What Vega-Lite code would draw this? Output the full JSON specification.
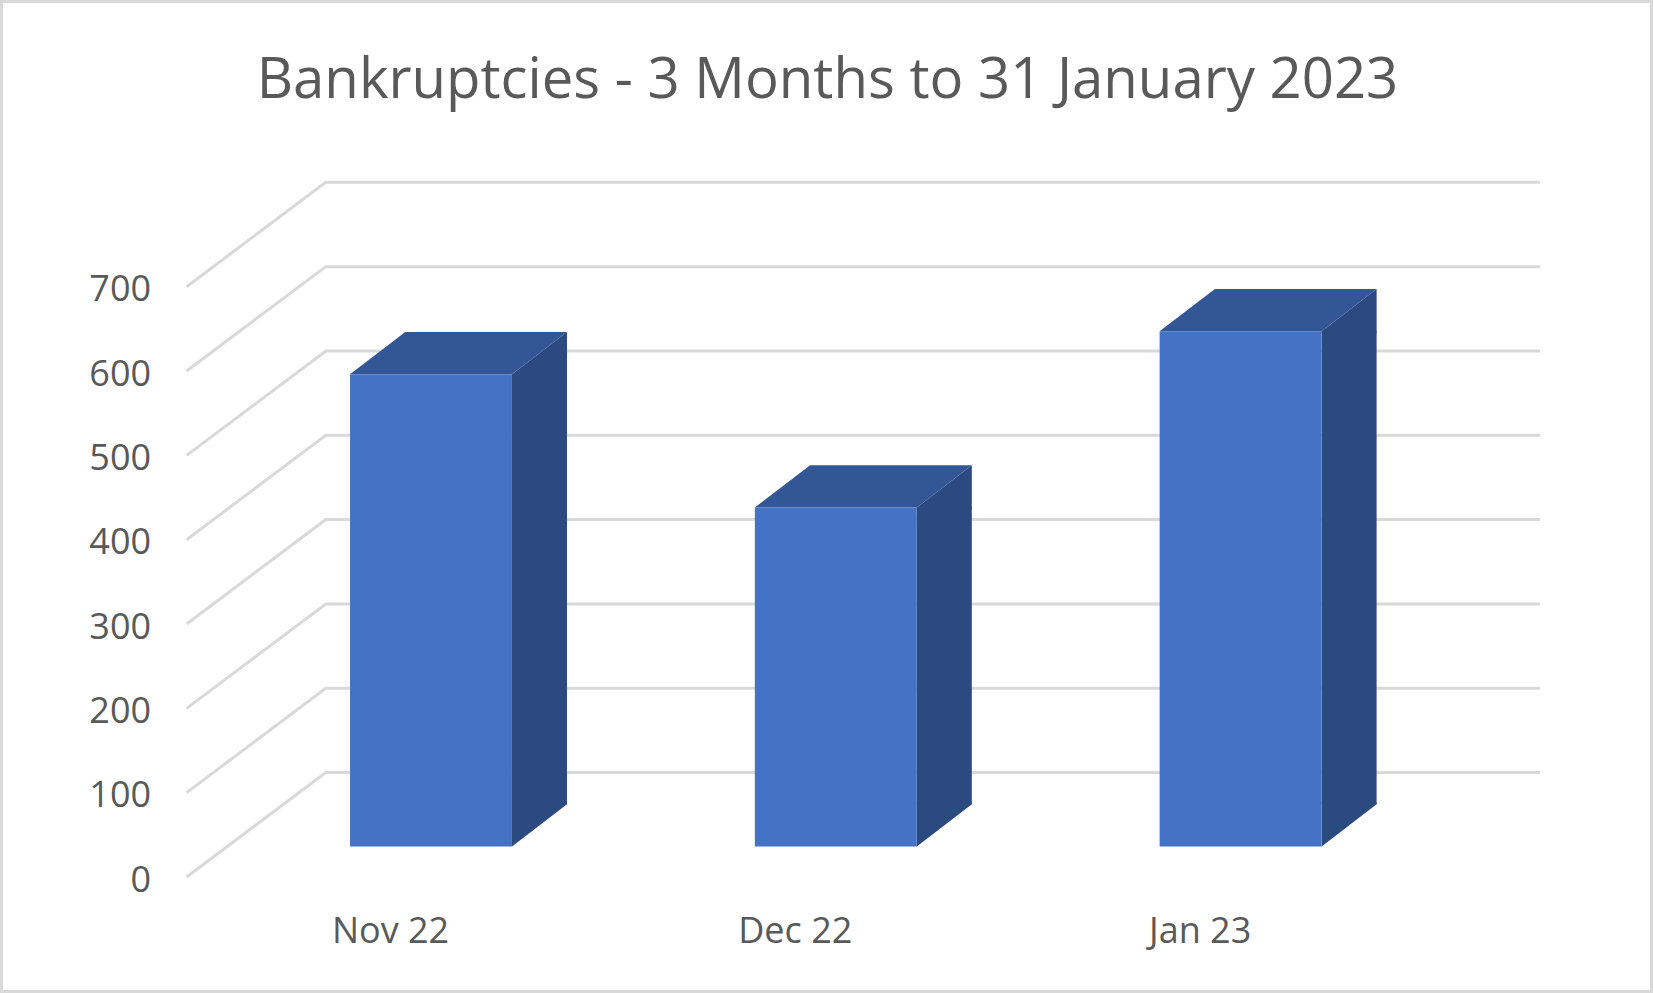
{
  "$schema": "https://vega.github.io/schema/vega-lite/v6.json",
  "width": 1214.4,
  "height": 590.3,
  "autosize": {"type": "none"},
  "padding": {"left": 186.6, "top": 286.7, "right": 252, "bottom": 116},
  "background": "white",
  "config": {"view": {"stroke": null}},
  "title": {
    "text": "Bankruptcies - 3 Months to 31 January 2023",
    "anchor": "middle",
    "frame": "group",
    "dx": 33.7,
    "offset": -114.5,
    "font": "Open Sans",
    "fontSize": 56.3,
    "fontWeight": "normal",
    "color": "#595959"
  },
  "datasets": {
    "bars": [
      {"month": "Nov 22", "bankruptcies": 560},
      {"month": "Dec 22", "bankruptcies": 402},
      {"month": "Jan 23", "bankruptcies": 611}
    ],
    "ticks": [
      {"level": 0}, {"level": 100}, {"level": 200}, {"level": 300},
      {"level": 400}, {"level": 500}, {"level": 600}, {"level": 700}
    ],
    "frame": [{"name": "border"}]
  },
  "layer": [
    {
      "data": {"name": "frame"},
      "mark": {
        "type": "point",
        "filled": false,
        "opacity": 1,
        "size": 4,
        "stroke": "#d9d9d9",
        "strokeWidth": 3,
        "shape": "M-792.3,-580.35L857.7,-580.35L857.7,409.65L-792.3,409.65Z"
      },
      "encoding": {}
    },
    {
      "data": {"name": "ticks"},
      "mark": {
        "type": "point",
        "filled": false,
        "opacity": 1,
        "size": 4,
        "stroke": "#d9d9d9",
        "strokeWidth": 3,
        "shape": "M-607.2,0L-468,-104.4L746.4,-104.4"
      },
      "encoding": {
        "y": {
          "field": "level",
          "type": "quantitative",
          "scale": {"domain": [0, 700], "nice": false},
          "axis": {
            "title": null,
            "domain": false,
            "ticks": false,
            "grid": false,
            "values": [0, 100, 200, 300, 400, 500, 600, 700],
            "labelPadding": 36,
            "labelOffset": 3,
            "labelFont": "Open Sans",
            "labelFontSize": 36,
            "labelColor": "#595959"
          }
        }
      }
    },
    {
      "data": {"name": "bars"},
      "mark": {
        "type": "bar",
        "fill": "#2a4a80",
        "width": 55,
        "xOffset": 150.5,
        "yOffset": -30.6,
        "y2Offset": -72.8
      },
      "encoding": {
        "x": {
          "field": "month",
          "type": "nominal",
          "sort": null,
          "scale": {"paddingInner": 0.6, "paddingOuter": 0.3},
          "axis": {
            "title": null,
            "domain": false,
            "ticks": false,
            "grid": false,
            "labelAngle": 0,
            "labelPadding": 37,
            "labelOffset": 1.5,
            "labelFont": "Open Sans",
            "labelFontSize": 36,
            "labelColor": "#595959"
          }
        },
        "y": {"field": "bankruptcies", "type": "quantitative"},
        "y2": {"datum": 0}
      }
    },
    {
      "data": {"name": "bars"},
      "mark": {
        "type": "point",
        "filled": true,
        "opacity": 1,
        "size": 4,
        "fill": "#2a4a80",
        "shape": "M123,-30.6L178,-72.8L178,-28.6L123,-28.6Z"
      },
      "encoding": {
        "x": {"field": "month", "type": "nominal", "sort": null},
        "y": {"field": "bankruptcies", "type": "quantitative"}
      }
    },
    {
      "data": {"name": "bars"},
      "mark": {
        "type": "point",
        "filled": true,
        "opacity": 1,
        "size": 4,
        "fill": "#2a4a80",
        "shape": "M123,-30.6L178,-72.8L178,-74.8L123,-74.8Z"
      },
      "encoding": {
        "x": {"field": "month", "type": "nominal", "sort": null},
        "y": {"datum": 0}
      }
    },
    {
      "data": {"name": "bars"},
      "mark": {
        "type": "point",
        "filled": true,
        "opacity": 1,
        "size": 4,
        "fill": "#335796",
        "shape": "M-39,-30.6L123,-30.6L178,-72.8L16.3,-72.8Z"
      },
      "encoding": {
        "x": {"field": "month", "type": "nominal", "sort": null},
        "y": {"field": "bankruptcies", "type": "quantitative"}
      }
    },
    {
      "data": {"name": "bars"},
      "mark": {
        "type": "bar",
        "fill": "#4472c4",
        "xOffset": 42,
        "yOffset": -30.6,
        "y2Offset": -30.6
      },
      "encoding": {
        "x": {"field": "month", "type": "nominal", "sort": null},
        "y": {"field": "bankruptcies", "type": "quantitative"},
        "y2": {"datum": 0}
      }
    }
  ]
}
